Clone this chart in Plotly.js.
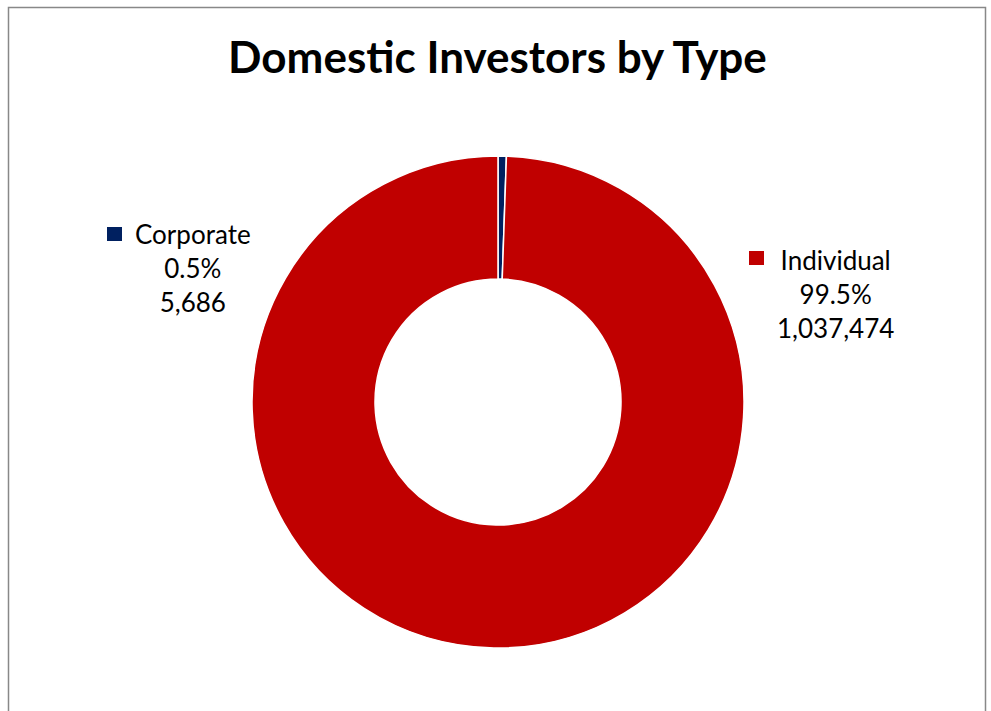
<!DOCTYPE html>
<html>
<head>
<meta charset="utf-8">
<script src="https://cdn.plot.ly/plotly-3.0.1.min.js"></script>
<style>
html,body{margin:0;padding:0;background:#fff;}
#chart{width:991px;height:711px;}
</style>
</head>
<body>
<div id="chart"></div>
<script>
var categories = ["Corporate", "Individual"];
var investorCounts = [5686, 1037474];
var sliceColors = ["#002060", "#C00000"];

var W = 991, H = 711;
var total = investorCounts.reduce(function(a, b){ return a + b; }, 0);
function px(x){ return x / W; }
function py(y){ return 1 - y / H; }

var FONT = "Lato, 'Open Sans', sans-serif";

var trace = {
  type: "pie",
  labels: categories,
  values: investorCounts,
  hole: 0.5,
  sort: false,
  direction: "clockwise",
  rotation: 0,
  marker: { colors: sliceColors, line: { color: "#ffffff", width: 1.5 } },
  textinfo: "none",
  hoverinfo: "label+value+percent",
  domain: { x: [px(252), px(744)], y: [py(648), py(156)] },
  showlegend: false
};

// label blocks: key square top-left, text center x, first line center y
var labelPos = [
  { sq: [107, 227], cx: 193, ty: 234 },
  { sq: [749, 251], cx: 835, ty: 260 }
];

var annotations = [];
var shapes = [];
categories.forEach(function(cat, i){
  var pct = (investorCounts[i] / total * 100).toFixed(1) + "%";
  var val = investorCounts[i].toLocaleString("en-US");
  var p = labelPos[i];
  annotations.push({
    xref: "paper", yref: "paper",
    x: px(p.cx), y: py(p.ty - 18),
    xanchor: "center", yanchor: "top",
    align: "center", showarrow: false,
    text: cat + "<br>" + pct + "<br>" + val,
    font: { family: FONT, size: 26, color: "#000" }
  });
  shapes.push({
    type: "rect", xref: "paper", yref: "paper",
    x0: px(p.sq[0]), x1: px(p.sq[0] + 15),
    y0: py(p.sq[1] + 14), y1: py(p.sq[1]),
    fillcolor: sliceColors[i], line: { width: 0 }
  });
});

// outer frame
shapes.push({
  type: "rect", xref: "paper", yref: "paper",
  x0: px(8.5), x1: px(985.5), y0: -0.2, y1: py(7.5),
  line: { color: "#888888", width: 1.5 }, fillcolor: "rgba(0,0,0,0)"
});

var layout = {
  width: W, height: H,
  margin: { l: 0, r: 0, t: 0, b: 0 },
  paper_bgcolor: "#ffffff",
  title: {
    text: "<b>Domestic Investors by Type</b>",
    x: 0.502, xanchor: "center",
    y: py(58), yanchor: "middle",
    font: { family: FONT, size: 44, color: "#000" }
  },
  annotations: annotations,
  shapes: shapes,
  showlegend: false
};

Plotly.newPlot("chart", [trace], layout, { displayModeBar: false, staticPlot: true });
</script>
</body>
</html>
